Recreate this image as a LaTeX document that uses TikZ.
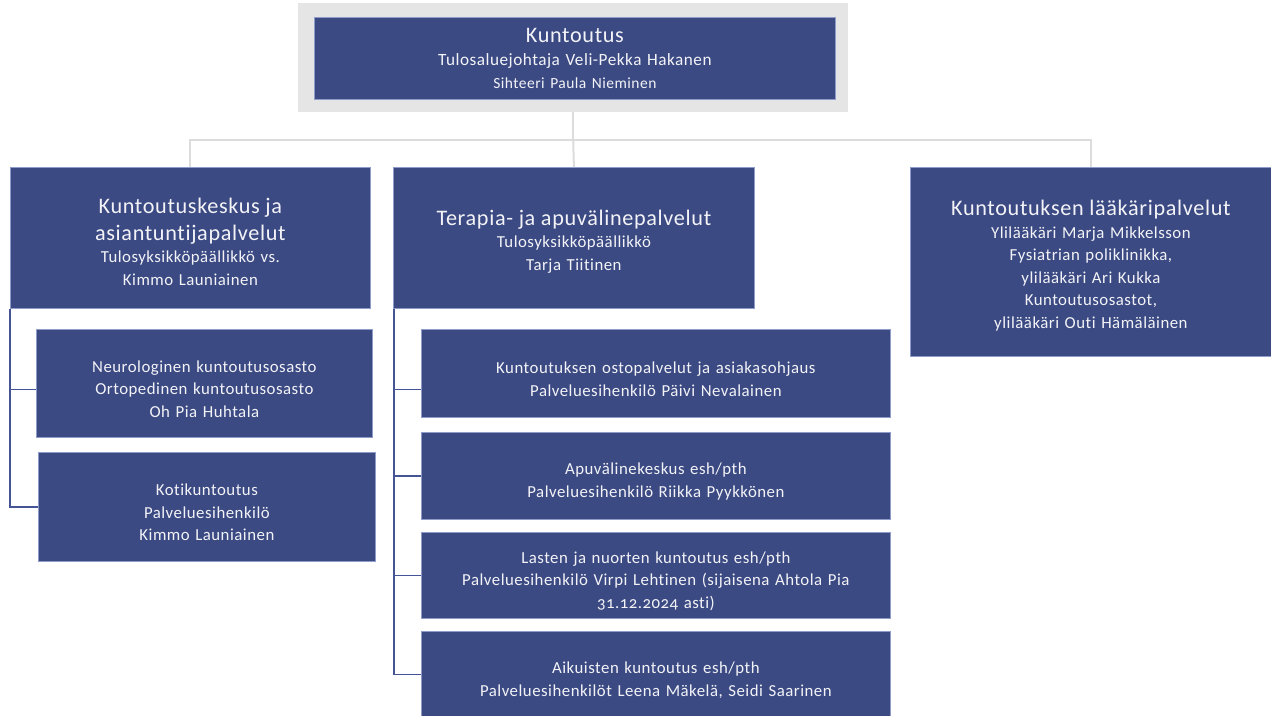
\documentclass[tikz,border=0pt]{standalone}
\usepackage{fontspec}
\setmainfont{Carlito}[LetterSpace=3,Ligatures=NoCommon]
\usetikzlibrary{calc}
\definecolor{BoxClr}{RGB}{59,74,131}
\definecolor{EdgeClr}{RGB}{143,156,201}
\definecolor{FrameClr}{RGB}{229,229,229}
\definecolor{LinkClr}{RGB}{220,220,220}
\definecolor{TreeClr}{RGB}{68,84,148}
\definecolor{TextClr}{RGB}{243,243,247}
\newcommand{\unittitle}{\fontsize{22.2}{27}\selectfont}
\newcommand{\unitbody}{\fontsize{16.8}{22.5}\selectfont}

\begin{document}
\begin{tikzpicture}[x=1pt,y=-1pt,
  unit/.style={draw=EdgeClr,line width=0.8pt,fill=BoxClr,text=TextClr,anchor=north west,
    inner xsep=5pt,inner ysep=0pt,align=center,font=\unitbody},
  lowered/.style={unit,execute at begin node=\rule{0pt}{23pt}},
  link/.style={draw=LinkClr,line width=2pt},
  tree/.style={draw=TreeClr,line width=1.6pt}]
\useasboundingbox (0,0) rectangle (1271,715);

% top unit
\node[fill=FrameClr,anchor=north west,inner sep=0pt,minimum width=550pt,minimum height=109pt] (frame) at (298,3) {};
\node[unit,minimum width=521pt,text width=511pt,minimum height=82pt] (top) at (314,17)
  {{\unittitle Kuntoutus}\\[1pt]{\fontsize{17.2}{22}\selectfont Tulosaluejohtaja Veli-Pekka Hakanen}\\{\fontsize{15.5}{20}\selectfont Sihteeri Paula Nieminen}};

% second level
\node[lowered,minimum width=360pt,text width=350pt,minimum height=141pt] (rehab) at (10,167)
  {{\unittitle Kuntoutuskeskus ja}\\[4.5pt]{\unittitle asiantuntijapalvelut}\\Tulosyksikköpäällikkö vs.\\Kimmo Launiainen};
\node[lowered,minimum width=361pt,text width=351pt,minimum height=141pt] (therapy) at (393,167)
  {{\unittitle Terapia- ja apuvälinepalvelut}\\Tulosyksikköpäällikkö\\Tarja Tiitinen};
\node[lowered,minimum width=361pt,text width=351pt,minimum height=189pt] (doctors) at (910,167)
  {{\unittitle Kuntoutuksen lääkäripalvelut}\\Ylilääkäri Marja Mikkelsson\\Fysiatrian poliklinikka,\\ylilääkäri Ari Kukka\\Kuntoutusosastot,\\ylilääkäri Outi Hämäläinen};

% under rehab
\node[lowered,minimum width=336pt,text width=326pt,minimum height=108pt] (wards) at (36,329)
  {Neurologinen kuntoutusosasto\\Ortopedinen kuntoutusosasto\\Oh Pia Huhtala};
\node[lowered,minimum width=337pt,text width=327pt,minimum height=109pt] (homerehab) at (38,452)
  {Kotikuntoutus\\Palveluesihenkilö\\Kimmo Launiainen};

% under therapy
\node[lowered,minimum width=469pt,text width=459pt,minimum height=88pt] (purchase) at (421,329)
  {Kuntoutuksen ostopalvelut ja asiakasohjaus\\Palveluesihenkilö Päivi Nevalainen};
\node[lowered,minimum width=469pt,text width=459pt,minimum height=87pt] (aids) at (421,432)
  {Apuvälinekeskus esh/pth\\Palveluesihenkilö Riikka Pyykkönen};
\node[lowered,minimum width=469pt,text width=459pt,minimum height=86pt] (children) at (421,532)
  {Lasten ja nuorten kuntoutus esh/pth\\Palveluesihenkilö Virpi Lehtinen (sijaisena Ahtola Pia\\{\addfontfeatures{Numbers=OldStyle}31.12.2024} asti)};
\node[lowered,minimum width=469pt,text width=459pt,minimum height=86pt] (adults) at (421,631)
  {Aikuisten kuntoutus esh/pth\\Palveluesihenkilöt Leena Mäkelä, Seidi Saarinen};

% connectors
\coordinate (hub) at ($(frame.south)+(0,28)$);
\draw[link] (frame.south) -- (hub);
\draw[link] (hub) -| (rehab.north);
\draw[link] (hub) -- (therapy.north);
\draw[link] (hub) -| (doctors.north);

\draw[tree] (rehab.south west) |- ([yshift=-6pt]wards.west);
\draw[tree] (rehab.south west) |- (homerehab.west);
\draw[tree] ([xshift=1pt]therapy.south west) |- ([yshift=-16pt]purchase.west);
\draw[tree] ([xshift=1pt]therapy.south west) |- (aids.west);
\draw[tree] ([xshift=1pt]therapy.south west) |- (children.west);
\draw[tree] ([xshift=1pt]therapy.south west) |- (adults.west);
\end{tikzpicture}
\end{document}
